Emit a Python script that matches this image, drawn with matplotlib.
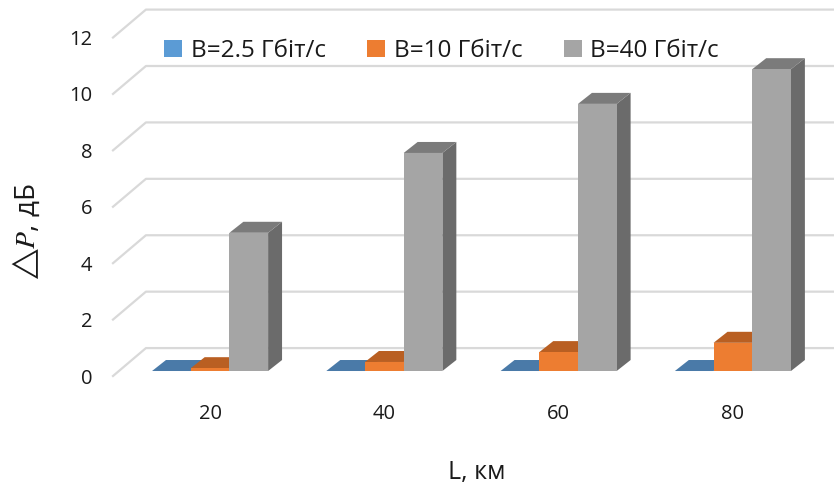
import matplotlib
matplotlib.use("Agg")
import matplotlib.pyplot as plt
from matplotlib.patches import Polygon, Patch

plt.rcParams['font.family'] = ['Open Sans', 'DejaVu Sans']
plt.rcParams['mathtext.fontset'] = 'stix'

# data
categories = ['20', '40', '60', '80']
series_names = ['B=2.5 Гбіт/с', 'B=10 Гбіт/с', 'B=40 Гбіт/с']
b25 = [0.0, 0.0, 0.0, 0.0]
b10 = [0.1, 0.32, 0.67, 1.0]
b40 = [4.9, 7.73, 9.47, 10.7]
yticks = [0, 2, 4, 6, 8, 10, 12]

series = [b25, b10, b40]
front_cols = ['#5B9BD5', '#ED7D31', '#A5A5A5']
top_cols = ['#4A7AA8', '#B95F22', '#7B7B7B']
side_cols = ['#3E6A94', '#A0501C', '#6B6B6B']

fig = plt.figure(figsize=(8.34, 4.88), dpi=100)
ax = fig.add_axes([113/834, 1 - 376/488, 1 - 113/834, 376/488])
ax.set_xlim(-0.557, 3.58)
ax.set_ylim(0, 13.33)
for s in ax.spines.values():
    s.set_visible(False)

# pseudo 3d geometry (data units)
wall_dx, wall_dy = 0.189, 0.99
bar_y0 = 0.177
bar_dx, bar_dy = 0.080, 0.39
w = 0.222
x0 = ax.get_xlim()[0]

# walls / gridlines
for v in yticks:
    ax.plot([x0, x0 + wall_dx, 3.7], [v, v + wall_dy, v + wall_dy],
            color='#D9D9D9', lw=1.6, zorder=1, clip_on=False)

# bars
z = 2
for i in range(len(categories)):
    for j, vals in enumerate(series):
        v = vals[i]
        xl = i + (j - 1.5) * w
        xr = xl + w
        yt = bar_y0 + v
        ax.add_patch(Polygon([(xr, bar_y0), (xr, yt), (xr + bar_dx, yt + bar_dy),
                              (xr + bar_dx, bar_y0 + bar_dy)],
                             closed=True, fc=side_cols[j], ec='none', zorder=z))
        ax.add_patch(Polygon([(xl, yt), (xr, yt), (xr + bar_dx, yt + bar_dy),
                              (xl + bar_dx, yt + bar_dy)],
                             closed=True, fc=top_cols[j], ec='none', zorder=z + 1))
        if v > 0:
            ax.bar(xl, v, width=w, bottom=bar_y0, align='edge',
                   color=front_cols[j], edgecolor='none', zorder=z + 2)
        z += 3

# ticks
ax.set_yticks(yticks)
ax.set_yticklabels([str(t) for t in yticks])
ax.set_xticks(range(len(categories)))
ax.set_xticklabels(categories)
ax.tick_params(axis='y', length=0, pad=15, labelsize=14.5, labelcolor='#1a1a1a')
ax.tick_params(axis='x', length=0, pad=20, labelsize=14.5, labelcolor='#1a1a1a')

fig.text(477/834, 1 - 472/488, 'L, км', ha='center', va='center',
         fontsize=18, color='#1a1a1a')
fig.text(26/834, 1 - 232/488, r'$\bigtriangleup P$, дБ', ha='center', va='center',
         rotation=90, fontsize=20, color='#1a1a1a')

handles = [Patch(fc=c, ec='none') for c in front_cols]
fig.legend(handles, series_names, loc='center left',
           bbox_to_anchor=(142/834, 1 - 51/488), ncol=3, frameon=False,
           fontsize=17.5, handlelength=0.75, handleheight=0.75, handletextpad=0.35,
           columnspacing=1.7, labelcolor='#1a1a1a')

fig.savefig('out.png', dpi=100)
